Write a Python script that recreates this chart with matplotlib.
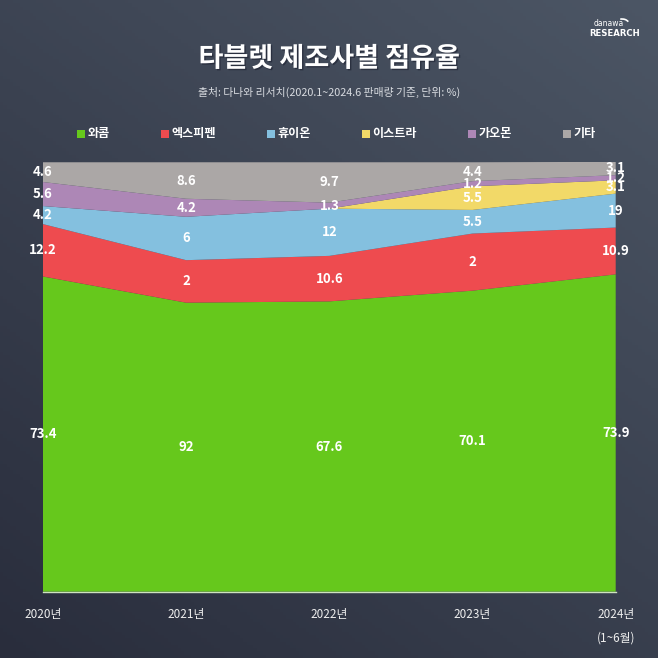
import numpy as np
import matplotlib.pyplot as plt
import matplotlib.patheffects as pe
from matplotlib.patches import Arc

plt.rcParams['font.family'] = ['Noto Sans CJK KR', 'DejaVu Sans']

years = ['2020년', '2021년', '2022년', '2023년', '2024년\n(1~6월)']
brands = ['와콤', '엑스피펜', '휴이온', '이스트라', '가오몬', '기타']
colors = ['#66c81c', '#ee4b4f', '#84c0df', '#f2d968', '#ad87b6', '#aba7a6']

# band thickness as drawn in the picture (share, %)
wacom = [73.4, 67.3, 67.6, 70.1, 73.9]
xppen = [12.2, 9.9, 10.6, 13.3, 10.9]
huion = [4.2, 10.1, 11.0, 5.5, 7.9]
istra = [0, 0, 0, 5.5, 3.1]
gaomon = [5.6, 4.2, 1.4, 1.2, 1.2]
etc = [4.6, 8.5, 9.4, 4.4, 3.1]

# printed labels (as written on the chart)
wacom_lbl = ['73.4', '92', '67.6', '70.1', '73.9']
xppen_lbl = ['12.2', '2', '10.6', '2', '10.9']
huion_lbl = ['4.2', '6', '12', '5.5', '19']
istra_lbl = ['', '', '', '5.5', '3.1']
gaomon_lbl = ['5.6', '4.2', '1.3', '1.2', '1.2']
etc_lbl = ['4.6', '8.6', '9.7', '4.4', '3.1']

series = [wacom, xppen, huion, istra, gaomon, etc]
labels = [wacom_lbl, xppen_lbl, huion_lbl, istra_lbl, gaomon_lbl, etc_lbl]

fig = plt.figure(figsize=(6.58, 6.58), dpi=100)

# background gradient
bg = fig.add_axes([0, 0, 1, 1])
gx, gy = np.meshgrid(np.linspace(0, 1, 200), np.linspace(0, 1, 200))
t = np.clip(0.55 * gx + 0.75 * gy, 0, 1.3) / 1.3
c0 = np.array([0x29, 0x2d, 0x3c]) / 255
c1 = np.array([0x4c, 0x56, 0x65]) / 255
img = c0[None, None, :] * (1 - t[..., None]) + c1[None, None, :] * t[..., None]
bg.imshow(img, origin='lower', extent=[0, 1, 0, 1], aspect='auto')
bg.set_xlim(0, 1)
bg.set_ylim(0, 1)
bg.set_axis_off()

ax = fig.add_axes([0.0653, 0.1008, 0.8704, 0.6526])
x = np.arange(len(years))
ax.stackplot(x, *series, colors=colors, linewidth=0)
ax.set_xlim(0, 4)
ax.set_ylim(0, 100)
ax.set_facecolor('none')
for s in ['top', 'left', 'right']:
    ax.spines[s].set_visible(False)
ax.spines['bottom'].set_color('#cfe3c0')
ax.spines['bottom'].set_linewidth(1)
ax.set_yticks([])
ax.set_xticks(x)
ax.set_xticklabels(years, color='#eeeeee', fontsize=8.5, linespacing=2.0)
ax.tick_params(axis='x', length=0, pad=12)

# data labels at band centres
base = np.zeros(len(x))
for vals, lbls in zip(series, labels):
    vals = np.array(vals, dtype=float)
    for i in range(len(x)):
        if lbls[i]:
            ax.text(x[i], base[i] + vals[i] / 2, lbls[i], ha='center', va='center',
                    color='white', fontsize=9.5, fontweight='bold', clip_on=False)
    base += vals

# title and subtitle
fig.text(0.5, 0.911, '타블렛 제조사별 점유율', ha='center', va='center', color='white',
         fontsize=19.5, fontweight='black',
         path_effects=[pe.withSimplePatchShadow(offset=(1, -1), shadow_rgbFace='#1c2030', alpha=0.6)])
fig.text(0.5, 0.859, '출처: 다나와 리서치(2020.1~2024.6 판매량 기준, 단위: %)', ha='center',
         va='center', color='#d8dbe0', fontsize=7.8)

# legend
leg_x = [77, 161, 267, 362, 468, 563]
for px, name, col in zip(leg_x, brands, colors):
    fig.patches.append(plt.Rectangle((px / 658, 1 - 137.5 / 658), 7.5 / 658, 7.5 / 658,
                                     transform=fig.transFigure, facecolor=col,
                                     edgecolor='none'))
    fig.text((px + 10.5) / 658, 1 - 133.5 / 658, name, ha='left', va='center',
             color='white', fontsize=8.7, fontweight='bold')

# logo
fig.text(609 / 658, 1 - 23 / 658, 'danawa', ha='center', va='center', color='white',
         fontsize=5.5, family='DejaVu Sans')
bg.add_patch(Arc((622 / 658, 1 - 24 / 658), 14 / 658, 10 / 658, theta1=20, theta2=110,
                 color='white', linewidth=1.2))
fig.text(615 / 658, 1 - 33 / 658, 'RESEARCH', ha='center', va='center', color='white',
         fontsize=6.8, fontweight='bold', family='DejaVu Sans', stretch='condensed')

fig.savefig('out.png', dpi=100)
